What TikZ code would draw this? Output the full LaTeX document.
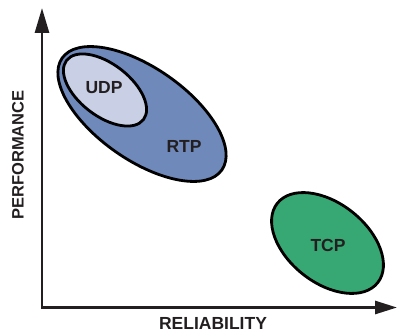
\documentclass[tikz,border=0pt]{standalone}
\usepackage{fontspec}
\setmainfont{Liberation Sans}
\usetikzlibrary{arrows.meta}
\definecolor{rtpblue}{HTML}{6F89BA}
\definecolor{udpgray}{HTML}{C9CFE4}
\definecolor{tcpgreen}{HTML}{37A874}
\definecolor{ink}{HTML}{231F20}
\tikzset{
  blob/.style={draw=black, line width=2.8pt},
  lbl/.style={text=ink, font=\bfseries\fontsize{17.5}{20}\selectfont, inner sep=0pt},
  axlbl/.style={text=ink, font=\bfseries\fontsize{16.5}{19}\selectfont, inner sep=0pt},
  axis/.style={draw=ink, line width=2.8pt, {Triangle[length=25pt,width=14pt]}-{Triangle[length=22pt,width=13pt]}}
}
\begin{document}
\begin{tikzpicture}[x=1pt,y=-1pt]
\useasboundingbox (0,0) rectangle (398,334);
% axes
\coordinate (ytip) at (42,8);
\coordinate (origin) at (42,307.5);
\coordinate (xtip) at (397,307.5);
\draw[axis] (ytip) -- (origin) -- (xtip);
% ellipses
\draw[blob, fill=rtpblue, rotate around={-35:(142,114)}] (142,114) ellipse [x radius=97.5pt, y radius=46pt];
\draw[blob, fill=udpgray, rotate around={-37.6:(105,90)}] (105,90) ellipse [x radius=48.5pt, y radius=26pt];
\draw[blob, fill=tcpgreen, rotate around={-38.3:(327.5,243)}] (327.5,243) ellipse [x radius=64pt, y radius=39.7pt];
% labels
\node[lbl] (udp) at (104,88) {UDP};
\node[lbl] (rtp) at (184,146) {RTP};
\node[lbl] (tcp) at (328,245) {TCP};
\node[axlbl, rotate=90] (perf) at (18,155) {PERFORMANCE};
\node[axlbl, font=\bfseries\fontsize{17.5}{20}\selectfont] (rel) at (213,323.5) {RELIABILITY};
\end{tikzpicture}
\end{document}
